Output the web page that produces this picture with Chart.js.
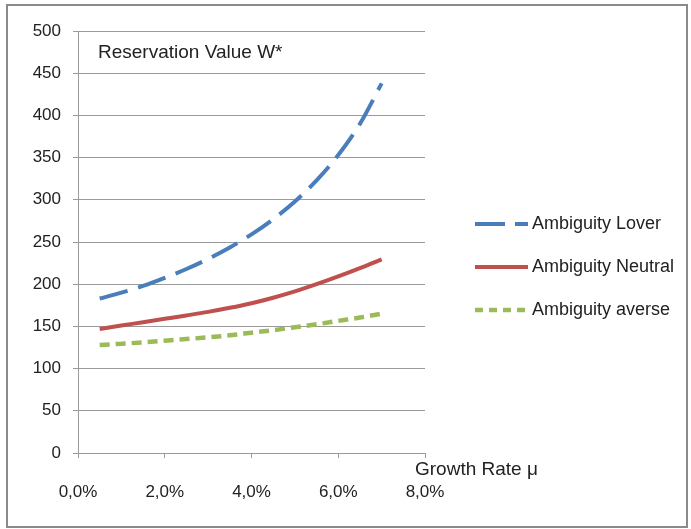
<!DOCTYPE html>
<html>
<head>
<meta charset="utf-8">
<script src="https://cdn.jsdelivr.net/npm/chart.js@4"></script>
<style>
  body { margin: 0; background: #fff; }
  canvas { display: block; }
</style>
</head>
<body>
<canvas id="myChart" width="691" height="529"></canvas>
<script>
// growth rate mu in percent
const growthRates = [0.5, 1.0, 1.5, 2.0, 2.5, 3.0, 3.5, 4.0, 4.5, 5.0, 5.5, 6.0, 6.5, 7.0];
const loverValues = [183, 190, 198, 207.5, 218, 230, 243.5, 259, 277, 298, 323, 353, 390, 438];
const neutralValues = [147, 151, 155, 159, 163, 167.2, 172, 177.5, 184, 191.5, 200, 209.2, 219, 229.5];
const averseValues = [128, 129.5, 131, 133, 135, 137, 139.5, 142.5, 145.5, 149, 152.5, 156.5, 160.5, 165];
const seriesNames = ['Ambiguity Lover', 'Ambiguity Neutral', 'Ambiguity averse'];

const FONT = '"Liberation Sans", Arial, sans-serif';
const GRID = '#9a9a9a';

const toPoints = (vals) => vals.map((v, i) => ({ x: growthRates[i], y: v }));

const extras = {
    id: 'extras',
    afterDraw(chart) {
        const c = chart.ctx;
        c.save();
        // outer frame
        c.strokeStyle = '#8a8a8a';
        c.lineWidth = 2;
        c.strokeRect(7, 5, 680, 522);

        c.fillStyle = '#222';
        c.textBaseline = 'middle';
        c.textAlign = 'left';
        c.font = '19px ' + FONT;
        c.fillText('Reservation Value W*', 98, 53);
        c.fillText('Growth Rate \u03bc', 415, 470);

        // legend
        const rows = [224, 267, 310];
        c.font = '18px ' + FONT;
        chart.data.datasets.forEach((ds, i) => {
            const y = rows[i];
            c.strokeStyle = ds.borderColor;
            c.lineWidth = ds.borderWidth;
            c.setLineDash(ds.legendDash || []);
            c.beginPath();
            c.moveTo(475, y);
            c.lineTo(528, y);
            c.stroke();
            c.setLineDash([]);
            c.fillStyle = '#222';
            c.fillText(ds.label, 532, y);
        });
        c.restore();
    }
};

const ctx = document.getElementById('myChart').getContext('2d');

const myChart = new Chart(ctx, {
    type: 'line',
    data: {
        datasets: [
            {
                label: seriesNames[0],
                data: toPoints(loverValues),
                borderColor: '#4a7ebb',
                borderWidth: 4,
                borderDash: [29, 11],
                legendDash: [30, 10],
                pointRadius: 0,
                cubicInterpolationMode: 'monotone',
                fill: false
            },
            {
                label: seriesNames[1],
                data: toPoints(neutralValues),
                borderColor: '#c0504d',
                borderWidth: 4,
                pointRadius: 0,
                cubicInterpolationMode: 'monotone',
                fill: false
            },
            {
                label: seriesNames[2],
                data: toPoints(averseValues),
                borderColor: '#9bbb59',
                borderWidth: 4.5,
                borderDash: [10, 6],
                legendDash: [8, 6],
                pointRadius: 0,
                cubicInterpolationMode: 'monotone',
                fill: false
            }
        ]
    },
    options: {
        responsive: false,
        animation: false,
        layout: {
            padding: { left: 0, right: 266, top: 31, bottom: 0 }
        },
        plugins: {
            legend: { display: false },
            tooltip: { enabled: false }
        },
        scales: {
            x: {
                type: 'linear',
                min: 0,
                max: 8,
                afterFit: (s) => { s.height = 76; },
                grid: {
                    drawOnChartArea: false,
                    drawTicks: true,
                    tickLength: 5,
                    color: GRID
                },
                border: { color: GRID, width: 1 },
                ticks: {
                    stepSize: 2,
                    padding: 24,
                    color: '#222',
                    font: { family: FONT, size: 17 },
                    callback: (v) => v.toFixed(1).replace('.', ',') + '%'
                }
            },
            y: {
                min: 0,
                max: 500,
                afterFit: (s) => { s.width = 78; },
                grid: {
                    color: GRID,
                    tickLength: 5
                },
                border: { color: GRID, width: 1 },
                ticks: {
                    stepSize: 50,
                    padding: 12,
                    color: '#222',
                    font: { family: FONT, size: 17 }
                }
            }
        }
    },
    plugins: [extras]
});
</script>
</body>
</html>
